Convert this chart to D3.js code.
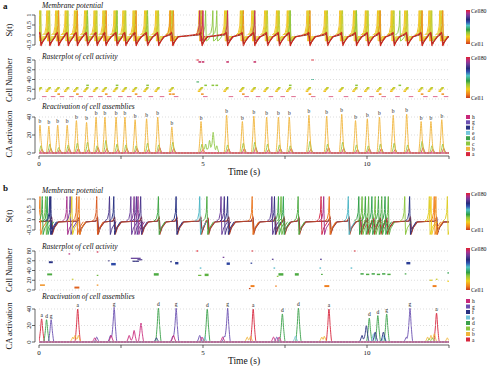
<!DOCTYPE html>
<html><head><meta charset="utf-8">
<script src="https://cdn.jsdelivr.net/npm/d3@7"></script>
<style>
body{margin:0;background:#fff}
svg{display:block}
text{font-family:"Liberation Serif","DejaVu Serif",serif;fill:#111}
</style>
</head><body>
<svg id="c" width="488" height="366"></svg>
<script>
// ---------------- DATA ----------------
const timeTicks = [0, 2.5, 5, 7.5, 10, 12.5];
const timeTickLabels = ["0", "", "5", "", "10", ""];
const memTicks = [-0.5, 0, 0.5, 1];
const memTickLabels = ["-0.5", "0", "0.5", "1"];
const cellTicks = [0, 20, 40, 60, 80];
const caTicks = [0, 20, 40];

// cell colour map (Cell1 -> Cell80)
const cellStops = [1, 8, 18, 28, 34, 44, 52, 58, 66, 73, 80];
const cellStopColors = ["#c8391e", "#f07f1e", "#f2cf1d", "#8cc63f", "#2e9e44", "#4fc3c8", "#3050b0", "#262b7a", "#6a3d9a", "#b0308a", "#e0202c"];

// assemblies
const caNames = ["h", "g", "f", "e", "d", "c", "b", "a"];
const caColors = ["#c8287a", "#6a4fb0", "#283080", "#74c6dc", "#3aa04a", "#8cc63f", "#f0b43a", "#d7263d"];

// ---- panel a ----
const evA = [0.03, 0.30, 0.57, 0.86, 1.14, 1.45, 1.74, 2.01, 2.35, 2.62, 2.93, 3.28, 3.62, 4.05, 4.94, 5.72, 6.20, 6.55, 6.94, 7.30, 7.63, 8.23, 8.77, 9.23, 9.65, 10.01, 10.38, 10.80, 11.21, 11.65, 11.95, 12.28];
const caA_b = [31, 30, 31, 31, 36, 34, 40, 40, 40, 40, 37, 38, 40, 29, 35, 42, 35, 41, 40, 40, 40, 42, 41, 43, 36, 38, 40, 42, 43, 35, 35, 37];
const caA_c = [8, 10, 6, 9, 11, 12, 8, 14, 10, 9, 8, 11, 9, 12, 10, 9, 11, 12, 10, 9, 8, 13, 10, 12, 9, 8, 10, 11, 9, 13, 8, 10];
const caA_cExtraT = [5.08, 5.2, 5.31, 5.42];
const caA_cExtraH = [10, 14, 23, 8];
const caA_a = [4, 5, 4, 5, 5, 4, 6, 5, 4, 5, 5, 4, 6, 5, 4, 5, 5, 6, 4, 5, 5, 4, 6, 5, 4, 5, 5, 4, 5, 6, 4, 5];

const spikeOffsetsA = [-0.06, -0.03, 0, 0.025];
const spikeCellsA = [16, 19, 21, 23];
const greenSpikesA = [1.48, 2.38, 3.31, 5.08, 5.3, 5.42, 7.66, 9.68, 11.0];
const orangeSpikesA = [0.6, 1.17, 2.05, 2.96, 4.0, 4.1, 4.98, 6.23, 8.26, 10.4, 11.68, 12.31];
const pinkSpikesA = [4.9, 5.0, 5.75, 6.58];
const greenCellA = 28, orangeCellA = 10, pinkCellA = 76;
const rasterRedCellsA = [5];
const rasterOutT_A = [4.8, 4.8, 8.3, 8.3];
const rasterOutC_A = [80, 35, 80, 40];

// spike / passive wave templates (time offset s, value)
const spkA_dt = [-0.13, -0.06, -0.02, 0, 0.008, 0.02, 0.07, 0.16];
const spkA_v = [0.0, 0.12, 0.45, 1.22, 0.6, -0.3, -0.25, -0.05];
const pasA1_dt = [-0.06, -0.01, 0.03, 0.08, 0.18];
const pasA1_v = [0.05, 0.12, -0.55, -0.35, -0.1];
const pasA2_dt = [-0.06, 0.0, 0.04, 0.1, 0.2];
const pasA2_v = [0.0, 0.08, -0.45, -0.3, -0.08];

// ---- panel b ----
const spikesBT = [0.03, 0.1, 0.2, 0.25, 0.33, 0.36, 0.85, 0.95, 1.0, 1.15, 1.22, 1.76, 2.15, 2.28, 2.8, 2.9, 2.97, 3.02, 3.1, 3.64, 4.18, 4.9, 5.12, 5.55, 5.65, 5.75, 6.5, 7.1, 7.18, 7.3, 7.38, 7.45, 7.9, 8.6, 8.68, 8.85, 9.43, 9.75, 9.85, 9.95, 10.05, 10.15, 10.25, 10.35, 10.45, 10.55, 10.65, 11.15, 11.3, 11.9, 11.95, 12.05, 12.1, 12.45];
const spikesBC = [8, 33, 30, 35, 57, 58, 72, 66, 20, 6, 8, 4, 62, 57, 66, 68, 64, 70, 62, 33, 57, 45, 32, 66, 62, 57, 7, 64, 60, 33, 30, 35, 32, 78, 72, 7, 45, 34, 30, 33, 31, 35, 30, 33, 32, 34, 31, 28, 57, 20, 18, 8, 10, 20];
const evB = [0.38, 1.22, 1.78, 2.3, 3.12, 3.66, 4.2, 4.93, 5.15, 5.78, 6.52, 7.2, 7.47, 7.92, 8.87, 9.45, 9.8, 10.0, 10.2, 10.4, 10.6, 11.32, 12.12];
const spkB_dt = [-0.14, -0.06, -0.02, 0, 0.01, 0.025, 0.08, 0.2];
const spkB_v = [-0.08, 0.05, 0.35, 1.12, 0.3, -0.72, -0.4, -0.1];
const pasB1_dt = [-0.05, 0, 0.025, 0.08, 0.2];
const pasB1_v = [-0.05, 0.1, -0.72, -0.4, -0.12];
const pasB2_dt = [-0.05, 0.01, 0.04, 0.1, 0.22];
const pasB2_v = [-0.08, 0.05, -0.6, -0.35, -0.1];

// raster b marks: start time, duration, cell, cell span
const rasterBT = [0.03, 0.25, 0.3, 0.9, 1.0, 1.08, 1.76, 1.76, 1.76, 2.2, 2.1, 2.8, 2.85, 3.0, 3.5, 4.15, 4.0, 4.8, 4.9, 4.85, 5.05, 5.6, 5.72, 6.4, 6.48, 6.45, 6.45, 7.1, 7.15, 7.3, 7.25, 7.8, 7.2, 8.57, 8.6, 8.7, 8.55, 9.6, 9.5, 9.8, 9.97, 10.14, 10.3, 10.46, 10.62, 11.2, 11.15, 11.9, 12.0, 12.1, 12.45, 12.45];
const rasterBD = [0.15, 0.15, 0.12, 0.05, 0.05, 0.15, 0.05, 0.05, 0.05, 0.14, 0.05, 0.3, 0.2, 0.15, 0.15, 0.1, 0.05, 0.05, 0.05, 0.1, 0.12, 0.05, 0.1, 0.05, 0.05, 0.12, 0.05, 0.05, 0.05, 0.15, 0.05, 0.12, 0.05, 0.05, 0.05, 0.15, 0.05, 0.05, 0.05, 0.1, 0.1, 0.1, 0.1, 0.1, 0.1, 0.12, 0.05, 0.1, 0.12, 0.05, 0.05, 0.05];
const rasterBC = [10, 32, 57, 74, 22, 5, 30, 10, 78, 53, 60, 65, 59, 62, 32, 55, 58, 80, 45, 30, 31, 67, 54, 3, 80, 8, 55, 63, 45, 32, 28, 32, 8, 63, 32, 8, 45, 80, 45, 33, 32, 33, 32, 33, 32, 55, 33, 20, 8, 22, 35, 18];
const rasterBS = [3, 4, 4, 1, 1, 4, 1, 1, 1, 5, 1, 1, 1, 1, 5, 5, 1, 1, 1, 1, 5, 1, 5, 1, 1, 4, 1, 1, 1, 5, 1, 5, 1, 1, 1, 4, 1, 1, 1, 3, 3, 3, 3, 3, 3, 5, 1, 1, 4, 1, 1, 1];

// CA activation b (per assembly: peak times and heights)
const caB_aT = [0.08, 1.18, 6.53, 8.84, 12.12], caB_aH = [28, 40, 40, 40, 35];
const caB_bT = [1.03, 1.1, 1.2, 6.35, 6.45, 8.62, 8.7, 11.85, 11.95, 12.05, 12.45, 12.55], caB_bH = [6, 8, 8, 6, 7, 6, 7, 6, 8, 10, 5, 5];
const caB_cT = [11.9, 12.0], caB_cH = [4, 5];
const caB_dT = [0.23, 3.64, 5.13, 7.42, 7.91, 10.07, 10.33, 10.6], caB_dH = [27, 41, 40, 34, 41, 29, 32, 34];
const caB_eT = [5.05, 7.82, 10.2, 10.52], caB_eH = [6, 7, 10, 8];
const caB_fT = [3.58, 9.85, 9.98, 10.25, 10.5], caB_fH = [5, 8, 20, 12, 12];
const caB_gT = [0.37, 1.76, 2.18, 2.29, 4.08, 4.18, 4.9, 5.65, 5.75, 7.25, 11.2, 11.31], caB_gH = [27, 6, 8, 42, 7, 41, 8, 7, 41, 6, 6, 41];
const caB_hT = [1.7, 2.2, 2.75, 2.9, 3.11, 4.1, 4.97, 5.6, 7.15, 7.32], caB_hH = [5, 8, 8, 14, 23, 8, 6, 6, 6, 6];
const caB_labT = [0.08, 0.23, 0.37, 1.18, 2.29, 3.64, 4.18, 5.13, 5.75, 6.53, 7.42, 7.91, 8.84, 10.07, 10.33, 10.6, 11.31, 12.12];
const caB_labH = [28, 27, 27, 40, 42, 41, 41, 40, 41, 40, 34, 41, 40, 29, 32, 34, 41, 35];
const caB_lab = ["a", "d", "g", "a", "g", "d", "g", "d", "g", "a", "d", "d", "a", "d", "d", "g", "g", "a"];

const caA_shapeDt = [-0.08, -0.035, 0, 0.035, 0.08];
const caB_shapeDt = [-0.09, -0.04, 0, 0.04, 0.09];
const caShapeK = [0, 0.45, 1, 0.45, 0];

// ---------------- DRAWING ----------------
const svg = d3.select("#c");
const x = d3.scaleLinear().domain([0, 12.5]).range([39, 449]);
const cellColor = d3.scaleLinear().domain(cellStops).range(cellStopColors).interpolate(d3.interpolateRgb);
const defs = svg.append("defs");
defs.append("clipPath").attr("id", "clipX").append("rect").attr("x", 39).attr("y", 0).attr("width", 410).attr("height", 366);

const grad = defs.append("linearGradient").attr("id", "cellGrad").attr("x1", 0).attr("y1", 0).attr("x2", 0).attr("y2", 1);
cellStops.slice().reverse().forEach(c => {
  grad.append("stop").attr("offset", (80 - c) / 79).attr("stop-color", cellColor(c));
});

function tpl(dt, v, u) {
  if (u < dt[0] || u > dt[dt.length - 1]) return null;
  for (let j = 0; j < dt.length - 1; j++) {
    if (u >= dt[j] && u <= dt[j + 1]) {
      const f = (u - dt[j]) / (dt[j + 1] - dt[j]);
      return v[j] + f * (v[j + 1] - v[j]);
    }
  }
  return null;
}
function envelope(times, heights, dt, k) {
  const xs = new Set([-0.2, 12.7]);
  times.forEach(t => dt.forEach(d => xs.add(+(t + d).toFixed(4))));
  const arr = [...xs].sort((a, b) => a - b);
  return arr.map(x0 => {
    let m = 0;
    times.forEach((t, i) => { const r = tpl(dt, k, x0 - t); if (r !== null) m = Math.max(m, heights[i] * r); });
    return [x0, m];
  });
}
function waveAt(t, dt, v) { return dt.map((d, j) => [t + d, v[j]]); }
function passiveTrace(events, dt, v) {
  const pts = [];
  events.forEach(e => waveAt(e, dt, v).forEach(p => pts.push(p)));
  pts.sort((a, b) => a[0] - b[0]);
  return [[-0.2, v[v.length - 1]]].concat(pts).concat([[12.7, v[v.length - 1]]]);
}

function yAxis(y, ticks, labels, title, titleY) {
  const g = svg.append("g");
  ticks.forEach(t => {
    g.append("line").attr("x1", 39).attr("x2", 449).attr("y1", y(t)).attr("y2", y(t)).attr("stroke", "#c8c8c8").attr("stroke-width", 0.6).attr("stroke-dasharray", "1,2");
  });
  g.append("line").attr("x1", 35).attr("x2", 35).attr("y1", y(ticks[0])).attr("y2", y(ticks[ticks.length - 1])).attr("stroke", "#222").attr("stroke-width", 0.7);
  ticks.forEach((t, i) => {
    g.append("line").attr("x1", 32).attr("x2", 35).attr("y1", y(t)).attr("y2", y(t)).attr("stroke", "#222").attr("stroke-width", 0.7);
    g.append("text").attr("transform", `translate(30.5,${y(t)}) rotate(-90)`).attr("text-anchor", "middle").attr("font-size", 6.5).text(labels[i]);
  });
  g.append("text").attr("transform", `translate(12,${titleY}) rotate(-90)`).attr("text-anchor", "middle").attr("font-size", 8.5).text(title);
}
function panelTitle(txt, y) {
  svg.append("text").attr("x", 42).attr("y", y).attr("font-size", 7.5).attr("font-style", "italic").text(txt);
}
function xAxis(yPos, labY, titleY) {
  const g = svg.append("g");
  g.append("line").attr("x1", x(0)).attr("x2", x(12.5)).attr("y1", yPos).attr("y2", yPos).attr("stroke", "#222").attr("stroke-width", 0.7);
  timeTicks.forEach((t, i) => {
    g.append("line").attr("x1", x(t)).attr("x2", x(t)).attr("y1", yPos).attr("y2", yPos + 3).attr("stroke", "#222").attr("stroke-width", 0.7);
    g.append("text").attr("x", x(t)).attr("y", labY).attr("text-anchor", "middle").attr("font-size", 7).text(timeTickLabels[i]);
  });
  g.append("text").attr("x", 244).attr("y", titleY).attr("text-anchor", "middle").attr("font-size", 9.5).text("Time (s)");
}
function colorBar(y0, y1) {
  svg.append("rect").attr("x", 466).attr("y", y0).attr("width", 4).attr("height", y1 - y0).attr("fill", "url(#cellGrad)");
  svg.append("text").attr("x", 471).attr("y", y0 + 2.5).attr("font-size", 5.8).text("Cell80");
  svg.append("text").attr("x", 471).attr("y", y1 + 1.5).attr("font-size", 5.8).text("Cell1");
}
function caLegend(y0, step) {
  caNames.forEach((n, i) => {
    svg.append("rect").attr("x", 466).attr("y", y0 + i * step - 2).attr("width", 4).attr("height", 4).attr("fill", caColors[i]);
    svg.append("text").attr("x", 472).attr("y", y0 + i * step + 2).attr("font-size", 5.5).text(n);
  });
}
const lineGen = (y) => d3.line().x(d => x(d[0])).y(d => y(d[1]));
const curveGen = (y) => d3.line().x(d => x(d[0])).y(d => y(d[1])).curve(d3.curveMonotoneX);
const plotG = svg.append("g").attr("clip-path", "url(#clipX)");

// ======== PANEL A ========
svg.append("text").attr("x", 3).attr("y", 9).attr("font-size", 9).attr("font-weight", "bold").text("a");
const yMemA = d3.scaleLinear().domain([-0.5, 1]).range([45, 15]);
const yRasA = d3.scaleLinear().domain([0, 80]).range([99, 60]);
const yCaA = d3.scaleLinear().domain([0, 40]).range([153, 117]);
yAxis(yMemA, memTicks, memTickLabels, "S(t)", 30);
yAxis(yRasA, cellTicks, cellTicks.map(String), "Cell Number", 80);
yAxis(yCaA, caTicks, caTicks.map(String), "CA activation", 134);
xAxis(156, 166, 175);
colorBar(10, 44);
colorBar(57, 98);
caLegend(117, 5.3);

const spikesA = [];
evA.forEach(e => spikeOffsetsA.forEach((o, j) => spikesA.push([e + o, spikeCellsA[j]])));
greenSpikesA.forEach(t => spikesA.push([t, greenCellA]));
orangeSpikesA.forEach(t => spikesA.push([t, orangeCellA]));
pinkSpikesA.forEach(t => spikesA.push([t, pinkCellA]));

spikesA.forEach(s => {
  plotG.append("path").attr("d", lineGen(yMemA)(waveAt(s[0], spkA_dt, spkA_v)))
    .attr("fill", "none").attr("stroke", cellColor(s[1])).attr("stroke-width", 1).attr("opacity", 0.9);
});
[[pasA2_dt, pasA2_v, "#8c3b2b"], [pasA1_dt, pasA1_v, "#d0281e"]].forEach(p => {
  plotG.append("path").attr("d", lineGen(yMemA)(passiveTrace(evA, p[0], p[1])))
    .attr("fill", "none").attr("stroke", p[2]).attr("stroke-width", 1.1);
});

spikesA.forEach(s => {
  plotG.append("line").attr("x1", x(s[0] - 0.04)).attr("x2", x(s[0] + 0.04)).attr("y1", yRasA(s[1])).attr("y2", yRasA(s[1]))
    .attr("stroke", cellColor(s[1])).attr("stroke-width", 1.5);
});
evA.forEach(e => rasterRedCellsA.forEach(c => {
  plotG.append("line").attr("x1", x(e + 0.06)).attr("x2", x(e + 0.2)).attr("y1", yRasA(c)).attr("y2", yRasA(c))
    .attr("stroke", "#d9507a").attr("stroke-width", 1.1).attr("opacity", 0.75);
}));
rasterOutT_A.forEach((t, i) => {
  plotG.append("line").attr("x1", x(t)).attr("x2", x(t + 0.08)).attr("y1", yRasA(rasterOutC_A[i])).attr("y2", yRasA(rasterOutC_A[i]))
    .attr("stroke", cellColor(rasterOutC_A[i])).attr("stroke-width", 1);
});

const caAseries = [
  [envelope(evA.map(t => t + 0.06), caA_a, caA_shapeDt, caShapeK), caColors[7]],
  [envelope(evA.map(t => t + 0.03).concat(caA_cExtraT), caA_c.concat(caA_cExtraH), caA_shapeDt, caShapeK), caColors[5]],
  [envelope(evA, caA_b, caA_shapeDt, caShapeK), caColors[6]]
];
caAseries.forEach(s => {
  plotG.append("path").attr("d", curveGen(yCaA)(s[0])).attr("fill", "none").attr("stroke", s[1]).attr("stroke-width", 0.9);
});
plotG.append("line").attr("x1", x(0)).attr("x2", x(12.5)).attr("y1", yCaA(0)).attr("y2", yCaA(0)).attr("stroke", "#d2557a").attr("stroke-width", 1.4);
evA.forEach((t, i) => {
  svg.append("text").attr("x", x(t)).attr("y", yCaA(caA_b[i]) - 2).attr("text-anchor", "middle").attr("font-size", 5.5).text("b");
});
panelTitle("Membrane potential", 8);
panelTitle("Rasterplot of cell activity", 59);
panelTitle("Reactivation of cell assemblies", 109);

// ======== PANEL B ========
svg.append("text").attr("x", 3).attr("y", 191).attr("font-size", 9).attr("font-weight", "bold").text("b");
const yMemB = d3.scaleLinear().domain([-0.5, 1]).range([230, 199]);
const yRasB = d3.scaleLinear().domain([0, 80]).range([290, 251]);
const yCaB = d3.scaleLinear().domain([0, 40]).range([342, 309]);
yAxis(yMemB, memTicks, memTickLabels, "S(t)", 216);
yAxis(yRasB, cellTicks, cellTicks.map(String), "Cell Number", 270);
yAxis(yCaB, caTicks, caTicks.map(String), "CA activation", 326);
xAxis(345, 355, 364);
colorBar(193, 230);
colorBar(248, 290);
caLegend(301, 5.5);

[[pasB2_dt, pasB2_v, "#6b2d5c"], [pasB1_dt, pasB1_v, "#b5442a"]].forEach(p => {
  plotG.append("path").attr("d", lineGen(yMemB)(passiveTrace(evB, p[0], p[1])))
    .attr("fill", "none").attr("stroke", p[2]).attr("stroke-width", 1.1);
});
spikesBT.forEach((t, i) => {
  plotG.append("path").attr("d", lineGen(yMemB)(waveAt(t, spkB_dt, spkB_v)))
    .attr("fill", "none").attr("stroke", cellColor(spikesBC[i])).attr("stroke-width", 1).attr("opacity", 0.95);
});

rasterBT.forEach((t, i) => {
  const h = Math.max(1.2, yRasB(0) - yRasB(rasterBS[i]));
  plotG.append("rect").attr("x", x(t)).attr("width", Math.max(1.5, x(t + rasterBD[i]) - x(t)))
    .attr("y", yRasB(rasterBC[i]) - h / 2).attr("height", h).attr("fill", cellColor(rasterBC[i]));
});

const caBsets = [
  [caB_aT, caB_aH, 7], [caB_bT, caB_bH, 6], [caB_cT, caB_cH, 5], [caB_dT, caB_dH, 4],
  [caB_eT, caB_eH, 3], [caB_fT, caB_fH, 2], [caB_gT, caB_gH, 1], [caB_hT, caB_hH, 0]
];
caBsets.forEach(s => {
  plotG.append("path").attr("d", curveGen(yCaB)(envelope(s[0], s[1], caB_shapeDt, caShapeK)))
    .attr("fill", "none").attr("stroke", caColors[s[2]]).attr("stroke-width", 0.9);
});
plotG.append("line").attr("x1", x(0)).attr("x2", x(12.5)).attr("y1", yCaB(0)).attr("y2", yCaB(0)).attr("stroke", "#c07a9c").attr("stroke-width", 1.4);
caB_labT.forEach((t, i) => {
  svg.append("text").attr("x", x(t)).attr("y", yCaB(caB_labH[i]) - 1.8).attr("text-anchor", "middle").attr("font-size", 5.5).text(caB_lab[i]);
});
panelTitle("Membrane potential", 193);
panelTitle("Rasterplot of cell activity", 249);
panelTitle("Reactivation of cell assemblies", 298.5);
</script>
</body></html>
